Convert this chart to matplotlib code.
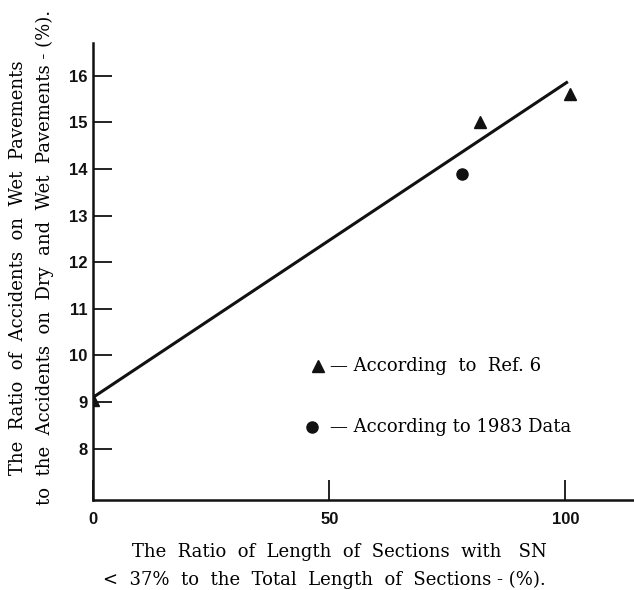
import matplotlib.pyplot as plt

# values
ref6_x = [0, 82, 101]
ref6_y = [9.05, 15.0, 15.6]
data83_x = [78]
data83_y = [13.9]
fit_x = [0, 100.5]
fit_y = [9.1, 15.87]

yticks = [8, 9, 10, 11, 12, 13, 14, 15, 16]
xticks = [0, 50, 100]

serif = 'DejaVu Serif'
sans = 'Liberation Sans'

fig = plt.figure(figsize=[6.34, 5.9], dpi=100)
ax = fig.add_axes([93/634, 90/590, 1 - 93/634, (500-43)/590])

ax.plot(fit_x, fit_y, color='#111111', lw=2.2, solid_capstyle='butt', zorder=2)
ax.plot(ref6_x, ref6_y, ls='none', marker='^', ms=9, color='#111111', zorder=3)
ax.plot(data83_x, data83_y, ls='none', marker='o', ms=8, color='#111111', zorder=3)

ax.set_xlim(0, 114.5)
ax.set_ylim(6.9, 16.7)

ax.spines['top'].set_visible(False)
ax.spines['right'].set_visible(False)
for s in ['left', 'bottom']:
    ax.spines[s].set_linewidth(1.8)
    ax.spines[s].set_color('#111111')

ax.set_yticks(yticks)
ax.set_yticklabels([str(t) for t in yticks], fontfamily=sans, fontweight='bold', fontsize=12)
ax.set_xticks(xticks)
ax.set_xticklabels([str(t) for t in xticks], fontfamily=sans, fontweight='bold', fontsize=12)
ax.tick_params(axis='y', direction='in', length=13.5, width=1.3, pad=4, colors='#111111')
ax.tick_params(axis='x', direction='in', length=14.5, width=1.3, pad=9, colors='#111111')

# legend written inside the axes
ax.plot([47.6], [9.78], ls='none', marker='^', ms=9, color='#111111')
ax.text(50.2, 9.78, '\u2014 According  to  Ref. 6', fontfamily=serif, fontsize=13, va='center')
ax.plot([46.3], [8.46], ls='none', marker='o', ms=8, color='#111111')
ax.text(50.2, 8.46, '\u2014 According to 1983 Data', fontfamily=serif, fontsize=13, va='center')

# axis titles
fig.text(18/634, 1 - 268/590, 'The  Ratio  of  Accidents  on  Wet  Pavements',
         rotation=90, fontfamily=serif, fontsize=13, ha='center', va='center')
fig.text(45/634, 1 - 257/590, 'to  the  Accidents  on  Dry  and  Wet  Pavements - (%).',
         rotation=90, fontfamily=serif, fontsize=13, ha='center', va='center')
fig.text(132/634, 1 - 552/590, 'The  Ratio  of  Length  of  Sections  with   SN',
         fontfamily=serif, fontsize=13, ha='left', va='center')
fig.text(103/634, 1 - 580/590, '<  37%  to  the  Total  Length  of  Sections - (%).',
         fontfamily=serif, fontsize=13, ha='left', va='center')

fig.savefig('out.png', dpi=100)
